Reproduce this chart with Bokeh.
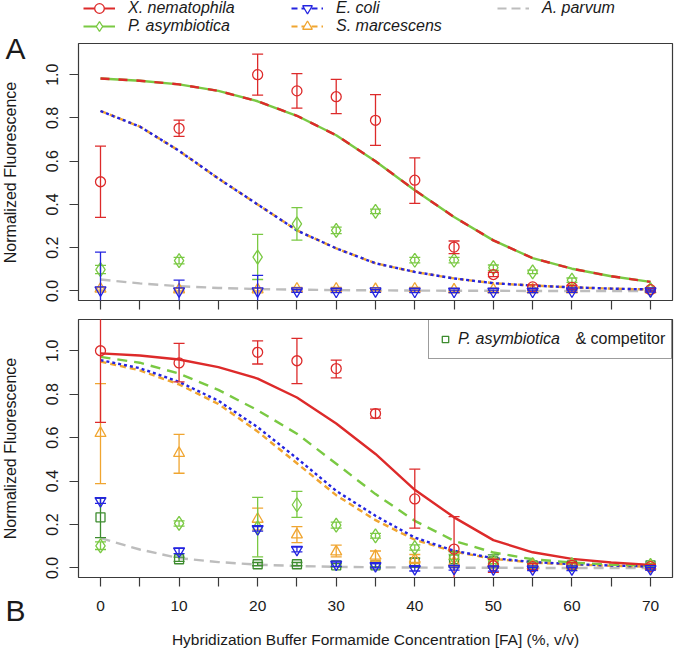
import math
from bokeh.plotting import figure
from bokeh.models import (ColumnDataSource, Legend, LegendItem, Label, FixedTicker,
                          Range1d, PrintfTickFormatter)
from bokeh.layouts import column, row
from bokeh.embed import file_html
from bokeh.resources import INLINE

# ---------------- data ----------------
FA = [0, 10, 20, 25, 30, 35, 40, 45, 50, 55, 60, 70]
FIT_FA = [0, 5, 10, 15, 20, 25, 30, 35, 40, 45, 50, 55, 60, 65, 70]

# Panel A measured points (mean, lower, upper)
xn_A = [0.505, 0.752, 1.0, 0.925, 0.898, 0.789, 0.512, 0.203, 0.076, 0.019, 0.017, 0.006]
xn_A_lo = [0.34, 0.715, 0.905, 0.845, 0.82, 0.673, 0.405, 0.173, 0.066, 0.01, 0.008, 0.0]
xn_A_hi = [0.67, 0.79, 1.095, 1.005, 0.978, 0.908, 0.615, 0.231, 0.086, 0.028, 0.026, 0.012]

pa_A = [0.099, 0.14, 0.157, 0.31, 0.28, 0.368, 0.142, 0.142, 0.108, 0.088, 0.05, 0.006]
pa_A_lo = [0.08, 0.125, 0.053, 0.235, 0.265, 0.358, 0.13, 0.13, 0.095, 0.08, 0.04, 0.0]
pa_A_hi = [0.118, 0.155, 0.262, 0.385, 0.295, 0.378, 0.155, 0.155, 0.12, 0.096, 0.06, 0.012]

ec_A = [0.004, 0.0, 0.0, 0.0, -0.002, 0.0, -0.002, -0.002, -0.002, -0.002, -0.001, 0.0]
ec_A_lo = [-0.17, -0.05, -0.07, -0.006, -0.008, -0.006, -0.008, -0.008, -0.008, -0.008, -0.006, -0.005]
ec_A_hi = [0.18, 0.05, 0.072, 0.006, 0.004, 0.006, 0.004, 0.004, 0.004, 0.004, 0.004, 0.005]

sm_A = [0.01, 0.006, 0.006, 0.01, 0.01, 0.008, 0.01, 0.006, 0.006, 0.006, 0.006, 0.006]
sm_A_lo = [0.004, 0.0, 0.0, 0.004, 0.004, 0.002, 0.004, 0.0, 0.0, 0.0, 0.0, 0.0]
sm_A_hi = [0.016, 0.012, 0.012, 0.016, 0.016, 0.014, 0.016, 0.012, 0.012, 0.012, 0.012, 0.012]

# Panel A fitted curves
fit_xn_A = [0.982, 0.972, 0.955, 0.925, 0.877, 0.81, 0.72, 0.60, 0.466, 0.342, 0.234, 0.152, 0.103, 0.068, 0.042]
fit_pa_A = [0.982, 0.972, 0.955, 0.925, 0.877, 0.81, 0.72, 0.60, 0.466, 0.342, 0.234, 0.152, 0.103, 0.068, 0.042]
fit_ec_A = [0.832, 0.76, 0.648, 0.52, 0.40, 0.28, 0.197, 0.128, 0.088, 0.058, 0.036, 0.025, 0.017, 0.011, 0.007]
fit_sm_A = [0.832, 0.76, 0.648, 0.52, 0.40, 0.28, 0.197, 0.128, 0.088, 0.058, 0.036, 0.025, 0.017, 0.011, 0.007]
fit_ap_A = [0.053, 0.035, 0.022, 0.014, 0.009, 0.006, 0.004, 0.003, 0.002, 0.001, 0.001, 0.0, 0.0, 0.0, 0.0]

# Panel B measured points
xn_B = [1.0, 0.944, 0.993, 0.954, 0.918, 0.711, 0.318, 0.087, 0.01, 0.006, 0.012, 0.006]
xn_B_lo = [0.67, 0.857, 0.939, 0.849, 0.875, 0.69, 0.183, -0.06, -0.02, -0.008, 0.0, -0.004]
xn_B_hi = [1.33, 1.034, 1.046, 1.057, 0.957, 0.731, 0.455, 0.236, 0.04, 0.02, 0.024, 0.016]

pa_B = [0.102, 0.205, 0.185, 0.291, 0.197, 0.148, 0.094, 0.05, 0.03, 0.015, 0.015, 0.012]
pa_B_lo = [0.085, 0.193, 0.051, 0.233, 0.183, 0.137, 0.082, 0.038, 0.02, 0.008, 0.008, 0.005]
pa_B_hi = [0.12, 0.217, 0.325, 0.353, 0.211, 0.159, 0.106, 0.062, 0.04, 0.022, 0.022, 0.019]

sm_B = [0.62, 0.528, 0.225, 0.153, 0.075, 0.055, 0.04, 0.025, 0.02, 0.01, 0.01, 0.008]
sm_B_lo = [0.388, 0.436, 0.175, 0.117, 0.051, 0.032, 0.02, 0.01, 0.005, 0.0, 0.0, 0.0]
sm_B_hi = [0.849, 0.615, 0.275, 0.19, 0.105, 0.078, 0.062, 0.04, 0.035, 0.02, 0.02, 0.016]

ec_B = [0.309, 0.078, 0.18, 0.085, 0.017, 0.01, -0.004, -0.003, -0.005, -0.005, -0.005, -0.004]
ec_B_lo = [0.297, 0.066, 0.17, 0.074, 0.007, 0.0, -0.014, -0.01, -0.015, -0.012, -0.012, -0.01]
ec_B_hi = [0.322, 0.09, 0.19, 0.096, 0.027, 0.02, 0.006, 0.004, 0.005, 0.002, 0.002, 0.002]

cp_B = [0.233, 0.04, 0.017, 0.017, 0.012, 0.012, 0.025, 0.04, 0.03, 0.012, 0.012, 0.012]
cp_B_lo = [0.14, 0.03, 0.01, 0.01, 0.005, 0.005, 0.005, 0.005, 0.0, 0.005, 0.005, 0.005]
cp_B_hi = [0.32, 0.05, 0.025, 0.025, 0.02, 0.02, 0.045, 0.075, 0.06, 0.02, 0.02, 0.02]

# Panel B fitted curves
fit_xn_B = [0.988, 0.978, 0.96, 0.925, 0.872, 0.785, 0.665, 0.525, 0.36, 0.233, 0.128, 0.072, 0.042, 0.025, 0.014]
fit_pa_B = [0.972, 0.945, 0.895, 0.82, 0.726, 0.618, 0.48, 0.34, 0.217, 0.125, 0.071, 0.04, 0.025, 0.015, 0.01]
fit_ec_B = [0.957, 0.92, 0.857, 0.77, 0.648, 0.505, 0.355, 0.24, 0.14, 0.079, 0.045, 0.027, 0.018, 0.011, 0.007]
fit_sm_B = [0.95, 0.91, 0.845, 0.755, 0.628, 0.482, 0.335, 0.22, 0.13, 0.075, 0.042, 0.025, 0.016, 0.01, 0.006]
fit_ap_B = [0.137, 0.085, 0.045, 0.027, 0.015, 0.009, 0.005, 0.003, 0.002, 0.001, 0.001, 0.0, 0.0, 0.0, 0.0]

X_MAJOR = [0, 10, 20, 30, 40, 50, 60, 70]
X_MINOR = [5, 15, 25, 35, 45, 55, 65]
X_ALL = [0, 5, 10, 15, 20, 25, 30, 35, 40, 45, 50, 55, 60, 65, 70]
Y_TICKS = [0.0, 0.2, 0.4, 0.6, 0.8, 1.0]

SPECIES = ["X. nematophila", "P. asymbiotica", "E. coli", "S. marcescens", "A. parvum"]
Y_TITLE = "Normalized Fluorescence"
X_TITLE = "Hybridization Buffer Formamide Concentration [FA] (%, v/v)"
NAN = [float("nan")]  # legend proxies draw nothing in the plot area

# ---------------- style ----------------
FONT = "Liberation Sans"
TXT = "#1a1a1a"
AX = "#3a3a3a"
RED = "#dd2a2a"
GREEN = "#7ac943"
BLUE = "#2424e0"
ORANGE = "#f0a530"
GRAY = "#bdbdbd"
DKGREEN = "#3d8c2e"
STRIP_W = 28
TOTAL_H = 657
MAIN_W = 676 - STRIP_W
FRAME_W = 594
LEG_H = 42


def blank_fig(w, h):
    p = figure(width=w, height=h, x_range=Range1d(0, 1), y_range=Range1d(0, 1),
               x_axis_type=None, y_axis_type=None, output_backend="svg",
               toolbar_location=None, min_border=0)
    p.title.visible = False
    p.outline_line_color = None
    p.xgrid.visible = False
    p.ygrid.visible = False
    p.background_fill_color = "white"
    p.border_fill_color = "white"
    return p


def make_fig(frame_h, top, bottom, show_labels):
    p = figure(frame_width=FRAME_W, frame_height=frame_h,
               x_range=Range1d(-2.8, 72.8), y_range=Range1d(-0.044, 1.144),
               output_backend="svg", toolbar_location=None,
               min_border_left=MAIN_W - FRAME_W - 4, min_border_right=4,
               min_border_top=top, min_border_bottom=bottom)
    p.title.visible = False
    p.xgrid.visible = False
    p.ygrid.visible = False
    p.outline_line_color = AX
    p.outline_line_width = 1.2
    p.background_fill_color = "white"
    p.border_fill_color = "white"

    xa = p.xaxis[0]
    xa.axis_line_color = None
    for kind in ("major", "minor"):
        setattr(xa, kind + "_tick_in", 0)
        setattr(xa, kind + "_tick_out", 9)
        setattr(xa, kind + "_tick_line_color", AX)
        setattr(xa, kind + "_tick_line_width", 1.2)
    if show_labels:
        xa.ticker = FixedTicker(ticks=X_MAJOR, minor_ticks=X_MINOR)
        xa.major_label_text_font = FONT
        xa.major_label_text_font_size = "15.5px"
        xa.major_label_text_color = TXT
        xa.major_label_standoff = 14
        xa.axis_label = X_TITLE
        xa.axis_label_text_font = FONT
        xa.axis_label_text_font_size = "15.5px"
        xa.axis_label_text_font_style = "normal"
        xa.axis_label_text_color = TXT
        xa.axis_label_standoff = 17
    else:
        xa.ticker = FixedTicker(ticks=[], minor_ticks=X_ALL)

    ya = p.yaxis[0]
    ya.ticker = FixedTicker(ticks=Y_TICKS, minor_ticks=[])
    ya.formatter = PrintfTickFormatter(format="%.1f")
    ya.axis_line_color = None
    ya.major_tick_in = 0
    ya.major_tick_out = 9
    ya.major_tick_line_color = AX
    ya.major_tick_line_width = 1.2
    ya.major_label_orientation = "vertical"
    ya.major_label_text_font = FONT
    ya.major_label_text_font_size = "16px"
    ya.major_label_text_color = TXT
    ya.major_label_standoff = 11
    return p


def curve(p, ys, color, dash, width=2.4):
    p.line(FIT_FA, ys, line_color=color, line_width=width, line_dash=dash)


def points(p, ys, lo, hi, color, marker, size):
    src = ColumnDataSource(dict(x=FA, y=ys, lo=lo, hi=hi))
    p.segment(x0="x", y0="lo", x1="x", y1="hi", source=src, line_color=color, line_width=1.3)
    p.scatter("x", "lo", source=src, marker="dash", size=11, line_color=color, line_width=1.3)
    p.scatter("x", "hi", source=src, marker="dash", size=11, line_color=color, line_width=1.3)
    p.scatter("x", "y", source=src, marker=marker, size=size, line_color=color,
              fill_alpha=0, line_width=1.3)


# ---------------- left strip (panel letters, y titles) ----------------
strip = blank_fig(STRIP_W, TOTAL_H)
for txt, x, y, ang, size, align in [
        ("A", 5, TOTAL_H - 47.5, 0, "30px", "left"),
        ("B", 5, TOTAL_H - 610, 0, "30px", "left"),
        (Y_TITLE, 10, TOTAL_H - 172, math.pi / 2, "16px", "center"),
        (Y_TITLE, 10, TOTAL_H - 448, math.pi / 2, "16px", "center")]:
    strip.add_layout(Label(x=x, y=y, x_units="screen", y_units="screen", text=txt,
                           angle=ang, text_font=FONT, text_font_size=size,
                           text_color=TXT, text_align=align, text_baseline="middle"))

# ---------------- species legend strip ----------------
legfig = blank_fig(MAIN_W, LEG_H)
leg_styles = [
    (RED, "solid", "circle", 11),
    (GREEN, "solid", "diamond", 13),
    (BLUE, "6 4", "inverted_triangle", 11),
    (ORANGE, "6 4", "triangle", 11),
    (GRAY, "9 5", None, 0),
]
# (x of glyph start from the panel's left edge, y centre of row from the top)
leg_pos = [(5, 8), (5, 26), (213, 8), (213, 26), (419, 8)]
for name, (c, dash, mk, sz), (lx, ly) in zip(SPECIES, leg_styles, leg_pos):
    rends = [legfig.line(x=NAN, y=NAN, line_color=c, line_width=2.2, line_dash=dash)]
    if mk:
        rends.append(legfig.scatter(x=NAN, y=NAN, marker=mk, size=sz, line_color=c,
                                    fill_color="white", fill_alpha=1, line_width=1.3))
    lg = Legend(items=[LegendItem(label=name, renderers=rends)],
                location=(lx, LEG_H - ly - 12),
                padding=0, margin=0, spacing=0, border_line_alpha=0,
                background_fill_alpha=0, glyph_width=32, glyph_height=24,
                label_height=24, label_standoff=13,
                label_text_font=FONT, label_text_font_size="16px",
                label_text_font_style="italic", label_text_color=TXT)
    legfig.add_layout(lg, "center")

# ---------------- panel A ----------------
pA = make_fig(257, 1, 10, False)
curve(pA, fit_ap_A, GRAY, "10 6")
curve(pA, fit_sm_A, ORANGE, "6 4")
curve(pA, fit_ec_A, BLUE, "3 3")
curve(pA, fit_pa_A, GREEN, "solid")
curve(pA, fit_xn_A, RED, "9 9")

points(pA, sm_A, sm_A_lo, sm_A_hi, ORANGE, "triangle", 11)
points(pA, pa_A, pa_A_lo, pa_A_hi, GREEN, "diamond", 14)
points(pA, xn_A, xn_A_lo, xn_A_hi, RED, "circle", 10)
points(pA, ec_A, ec_A_lo, ec_A_hi, BLUE, "inverted_triangle", 11)

# ---------------- panel B ----------------
pB = make_fig(258, 9, 80, True)
curve(pB, fit_ap_B, GRAY, "10 6")
curve(pB, fit_sm_B, ORANGE, "6 4")
curve(pB, fit_ec_B, BLUE, "3 3")
curve(pB, fit_pa_B, GREEN, "10 7")
curve(pB, fit_xn_B, RED, "solid")

points(pB, cp_B, cp_B_lo, cp_B_hi, DKGREEN, "square", 9)
points(pB, sm_B, sm_B_lo, sm_B_hi, ORANGE, "triangle", 11)
points(pB, pa_B, pa_B_lo, pa_B_hi, GREEN, "diamond", 14)
points(pB, xn_B, xn_B_lo, xn_B_hi, RED, "circle", 10)
points(pB, ec_B, ec_B_lo, ec_B_hi, BLUE, "inverted_triangle", 11)

sq = pB.scatter(x=NAN, y=NAN, marker="square", size=9, line_color=DKGREEN,
                fill_alpha=0, line_width=1.3)
legB = Legend(items=[LegendItem(label="P. asymbiotica", renderers=[sq])],
              location="top_right", padding=8, margin=0, spacing=0,
              border_line_color=AX, border_line_width=1.2,
              background_fill_alpha=0,
              glyph_width=16, glyph_height=22, label_height=22, label_width=205,
              label_standoff=5, label_text_font=FONT, label_text_font_size="16px",
              label_text_font_style="italic", label_text_color=TXT)
pB.add_layout(legB, "center")
pB.add_layout(Label(x=497, y=239, x_units="screen", y_units="screen", text="& competitor",
                    text_font=FONT, text_font_size="16px", text_color=TXT,
                    text_baseline="middle", text_align="left"))

layout = row(strip, column(legfig, pA, pB, spacing=0), spacing=0)
open("out.html", "w").write(file_html(layout, INLINE))
